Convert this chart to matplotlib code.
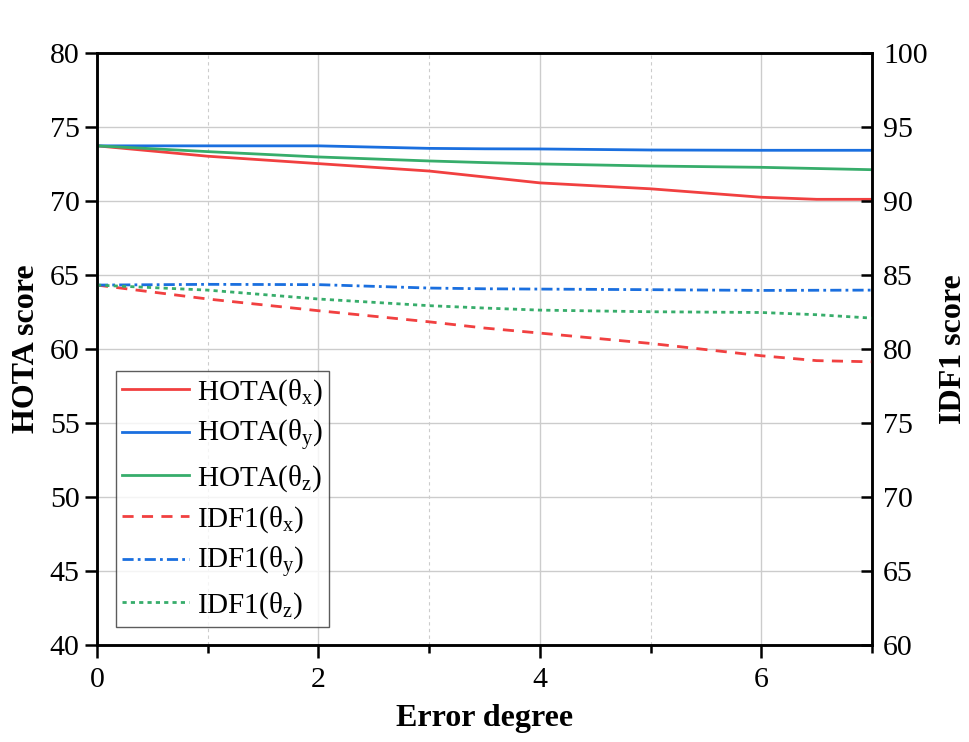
import matplotlib
matplotlib.use("Agg")
import matplotlib.pyplot as plt
from matplotlib.ticker import MultipleLocator

plt.rcParams['font.family'] = ['Liberation Serif', 'DejaVu Serif']
plt.rcParams['mathtext.fontset'] = 'custom'
plt.rcParams['mathtext.rm'] = 'Liberation Serif'
plt.rcParams['mathtext.it'] = 'Liberation Serif'

error_deg = [0, 1, 2, 3, 3.5, 4, 5, 6, 6.5, 7]
hota_x = [73.7, 73.0, 72.5, 72.0, 71.6, 71.2, 70.8, 70.23, 70.09, 70.09]
hota_y = [73.7, 73.7, 73.7, 73.53, 73.5, 73.49, 73.42, 73.4, 73.4, 73.4]
hota_z = [73.7, 73.31, 72.95, 72.68, 72.57, 72.48, 72.34, 72.25, 72.17, 72.09]
idf1_x = [84.3, 83.36, 82.57, 81.82, 81.4, 81.06, 80.36, 79.53, 79.2, 79.12]
idf1_y = [84.3, 84.35, 84.33, 84.1, 84.05, 84.03, 83.99, 83.94, 83.95, 83.96]
idf1_z = [84.3, 83.96, 83.36, 82.91, 82.75, 82.61, 82.5, 82.45, 82.3, 82.07]

c_red = '#F14040'
c_blue = '#1A6FDF'
c_green = '#37AD6B'

fig = plt.figure(figsize=(9.69, 7.42), dpi=100)
ax = fig.add_axes([0.1001, 0.1307, 0.7998, 0.7985])
ax2 = ax.twinx()

lw = 2
l1, = ax.plot(error_deg, hota_x, color=c_red, lw=lw, label=r'HOTA($\mathregular{\theta_x}$)')
l2, = ax.plot(error_deg, hota_y, color=c_blue, lw=lw, label=r'HOTA($\mathregular{\theta_y}$)')
l3, = ax.plot(error_deg, hota_z, color=c_green, lw=lw, label=r'HOTA($\mathregular{\theta_z}$)')
l4, = ax2.plot(error_deg, idf1_x, color=c_red, lw=lw, ls=(0, (4, 3)), label=r'IDF1($\mathregular{\theta_x}$)')
l5, = ax2.plot(error_deg, idf1_y, color=c_blue, lw=lw, ls=(0, (4, 1.5, 1, 1.5)), label=r'IDF1($\mathregular{\theta_y}$)')
l6, = ax2.plot(error_deg, idf1_z, color=c_green, lw=lw, ls=(0, (1.5, 1.5)), label=r'IDF1($\mathregular{\theta_z}$)')

ax.set_xlim(0, 7)
ax.set_ylim(40, 80)
ax2.set_ylim(60, 100)
ax.xaxis.set_major_locator(MultipleLocator(2))
ax.xaxis.set_minor_locator(MultipleLocator(1))
ax.yaxis.set_major_locator(MultipleLocator(5))
ax2.yaxis.set_major_locator(MultipleLocator(5))

ax.grid(True, which='major', axis='both', color='#cccccc', lw=1)
ax.grid(True, which='minor', axis='x', color='#cccccc', lw=0.8, ls=(0, (3, 3)))
ax.set_axisbelow(True)

for a in (ax, ax2):
    for s in a.spines.values():
        s.set_linewidth(1.8)
ax.tick_params(axis='both', which='major', labelsize=21.5, direction='out', length=9, width=1.8)
ax.tick_params(axis='x', which='major', pad=7)
ax.tick_params(axis='x', which='minor', direction='out', length=6, width=1.8)
ax2.tick_params(axis='y', which='major', labelsize=21.5, direction='in', length=8, width=1.8, pad=8)

ax.set_xlabel('Error degree', fontsize=23, fontweight='bold', labelpad=8)
ax.set_ylabel('HOTA score', fontsize=23, fontweight='bold', labelpad=6)
ax2.set_ylabel('IDF1 score', fontsize=23, fontweight='bold', labelpad=8)

leg = ax.legend(handles=[l1, l2, l3, l4, l5, l6], loc='lower left',
                bbox_to_anchor=(0.0245, 0.03), borderaxespad=0, fontsize=21,
                frameon=True, fancybox=False, edgecolor='#333333',
                handlelength=2.3, handletextpad=0.25, labelspacing=0.35,
                borderpad=0.22)
leg.get_frame().set_linewidth(1.0)
leg.set_zorder(10)

fig.savefig('out.png', dpi=100)
